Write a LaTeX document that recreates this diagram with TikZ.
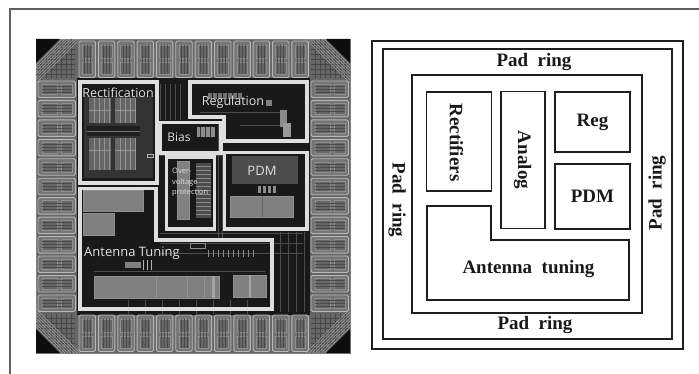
\documentclass[tikz,border=0pt]{standalone}
\usepackage{fontspec}
\setmainfont{Liberation Serif}
\newfontfamily\chipfont{Open Sans}
\usetikzlibrary{positioning,calc}

\begin{document}
\begin{tikzpicture}[x=1pt,y=-1pt,
  padcell/.style={draw=black!28,line width=0.9pt,fill=black!54,rounded corners=1.5pt},
  padcore/.style={draw=black!44,line width=0.5pt,fill=black!60},
  hilite/.style={draw=black!13,line width=3.6pt,miter limit=10},
  metal/.style={fill=black!50,draw=black!44,line width=0.4pt},
  wire/.style={draw=black!70,line width=0.35pt},
  chiplab/.style={text=black!12,font=\chipfont,inner sep=0pt},
  ring/.style={draw=black!88,line width=2pt,fill=none},
  blockbox/.style={draw=black!88,line width=1.7pt,fill=none,inner sep=0pt},
  blocklab/.style={font=\fontsize{19}{19}\selectfont\bfseries,text=black!90,inner sep=0pt}]
  \useasboundingbox (0,0) rectangle (699,374);
  % page rule
  \coordinate (pagetop) at (699,9);
  \coordinate (pagecorner) at (10,9);
  \coordinate (pagebottom) at (10,374);
  \draw[black!62,line width=1.5pt] (pagebottom) -- (pagecorner) -- (pagetop);

  % left: chip photo
  \fill[black!60] (36,39) rectangle (350,353);
  \fill[black!90] (77,78) rectangle (310,315);
  \draw[black!50,line width=0.8pt] (36,39) rectangle (350,353);
  % corners
  \foreach \cx/\cy/\sx/\sy in {36/39/1/1,350/39/-1/1,36/353/1/-1,350/353/-1/-1} {
    \begin{scope}[shift={(\cx,\cy)},xscale=\sx,yscale=\sy]
      \fill[black!95] (0,0) -- (24,0) -- (0,24) -- cycle;
      \foreach \d in {5,10,...,35} {
        \draw[black!72,line width=0.3pt] (\d,{max(27-\d,0)}) -- (\d,39);
        \draw[black!72,line width=0.3pt] ({max(27-\d,0)},\d) -- (39,\d);
      }
      \foreach \d in {26,29,...,44}
        \draw[black!40,line width=0.6pt] (\d,0) -- (0,\d);
    \end{scope}
  }
  % pads, top and bottom
  \foreach \i in {0,...,11} {
    \pgfmathsetmacro{\px}{79+\i*19.35}
    \foreach \py in {41,315} {
      \draw[padcell] (\px,\py) rectangle ++(16.5,36.5);
      \draw[padcore] (\px+3,\py+4) rectangle ++(10.5,13);
      \draw[padcore] (\px+3,\py+21) rectangle ++(10.5,12);
      \foreach \t in {3,6,9}
        \draw[black!70,line width=0.3pt] (\px+\t+2,\py+4) -- ++(0,29);
    }
  }
  % pads, left and right
  \foreach \i in {0,...,11} {
    \pgfmathsetmacro{\py}{81+\i*19.45}
    \foreach \px in {38,311} {
      \draw[padcell] (\px,\py) rectangle ++(37.5,16.5);
      \draw[padcore] (\px+4,\py+3) rectangle ++(15,10.5);
      \draw[padcore] (\px+23,\py+3) rectangle ++(11,10.5);
      \foreach \t in {3,6,9}
        \draw[black!70,line width=0.3pt] (\px+4,\py+\t+2) -- ++(30,0);
    }
  }
  % wiring in the core
  \foreach \wx in {160,165,...,184}
    \draw[wire] (\wx,84) -- (\wx,120);
  \foreach \wy in {233,243,253}
    \draw[wire] (160,\wy) -- (303,\wy);
  \foreach \wx in {280,288,...,304}
    \draw[wire] (\wx,232) -- (\wx,312);
  \foreach \wx in {218,222}
    \draw[wire] (\wx,122) -- (\wx,238);
  \draw[wire] (160,155) -- (222,155);
  \foreach \wx in {128,145,...,260}
    \draw[wire] (\wx,300) -- (\wx,314);
  % rectification
  \fill[black!80] (84,96) rectangle (153,178);
  \foreach \qx/\qw in {89/22,115/20} {
    \foreach \qy/\qh in {98/25,138/32} {
      \fill[black!60] (\qx,\qy) rectangle ++(\qw,\qh);
      \foreach \t in {5,10,...,20}
        \draw[black!42,line width=0.4pt] (\qx+\t,\qy) -- ++(0,\qh);
      \draw[black!42,line width=0.6pt] (\qx,\qy+12) -- ++(\qw,0);
    }
  }
  \fill[black!88] (87,126) rectangle (140,136);
  \draw[black!55,line width=0.5pt] (87,131) -- (140,131);
  \draw[black!30,line width=0.7pt] (147,154) rectangle (153,157);
  % regulation
  \foreach \t in {0,5,...,30}
    \fill[black!55] (208+\t,93) rectangle ++(3.5,6);
  \fill[black!50] (266,100) rectangle (272,106);
  \fill[black!45] (280,110) rectangle (287,127);
  \fill[black!40] (283,123) rectangle (291,137);
  \draw[wire] (200,112) -- (280,112) (240,125) -- (280,125);
  % bias
  \fill[black!45] (197,127) rectangle (215,137);
  \foreach \t in {3,8,13}
    \draw[black!80,line width=0.5pt] (197+\t,127) -- ++(0,10);
  % over-voltage protection
  \fill[metal] (177,161) rectangle (189,219);
  \fill[black!70] (196,163) rectangle (211,218);
  \foreach \t in {3,7,...,51}
    \draw[black!45,line width=0.8pt] (196,163+\t) -- ++(15,0);
  % PDM
  \fill[black!70] (232,156) rectangle (298,184);
  \fill[metal] (230,196) rectangle (293,217);
  \draw[black!60,line width=0.4pt] (262,196) -- (262,217);
  \foreach \t in {0,5,10,15}
    \fill[black!45] (258+\t,186) rectangle ++(3,7);
  % antenna tuning
  \fill[metal] (83,190) rectangle (143,211);
  \fill[metal] (83,213) rectangle (114,235);
  \fill[metal] (94,276) rectangle (219,298);
  \draw[black!42,line width=0.5pt] (156,276) -- (156,298) (187,276) -- (187,298) (204,276) -- (204,298);
  \fill[black!36] (212,276) rectangle (215,298);
  \fill[metal] (233,275) rectangle (266,297);
  \fill[black!36] (249,275) rectangle (251,297);
  \fill[black!50] (125,262) rectangle (141,268);
  \foreach \t in {0,4,8}
    \draw[black!30,line width=0.7pt] (143+\t,260) -- ++(0,10);
  \foreach \t in {0,5,...,45}
    \draw[black!45,line width=0.6pt] (208+\t,250) -- ++(0,7);
  \draw[black!45,line width=0.6pt] (190,243) rectangle (205,248);
  \draw[wire] (94,271) -- (265,271);
  % highlighted blocks
  \draw[hilite] (80,82) rectangle (157,183);
  \draw[hilite] (190,82) -- (307,82) -- (307,141) -- (224,141) -- (224,117) -- (190,117) -- cycle;
  \draw[hilite] (160,122.5) rectangle (221,153);
  \draw[hilite] (166.5,157) rectangle (214.5,229);
  \draw[hilite] (224.5,152.5) rectangle (307,229);
  \draw[hilite] (80,188.5) -- (156,188.5) -- (156,240) -- (272,240) -- (272,309) -- (80,309) -- cycle;
  % chip labels
  \node[chiplab,font=\chipfont\fontsize{12.5}{12.5}\selectfont] (rectification) at (118,93) {Rectification};
  \node[chiplab,font=\chipfont\fontsize{12.5}{12.5}\selectfont] (regulation) at (233,102) {Regulation};
  \node[chiplab,font=\chipfont\fontsize{12}{12}\selectfont] (bias) at (179,137) {Bias};
  \node[chiplab,font=\chipfont\fontsize{13}{13}\selectfont] (pdmchip) at (262,171) {PDM};
  \node[chiplab,font=\chipfont\fontsize{13}{13}\selectfont] (antennachip) at (132,253) {Antenna Tuning};
  \node[chiplab,text=black!12,align=left,font=\chipfont\fontsize{7.5}{10.5}\selectfont,anchor=north west] (overvolt) at (172,168) {Over-\\voltage\\protection};

  % right: floorplan
  \draw[ring] (372,41) rectangle (683,349);
  \draw[ring] (383,49.5) rectangle (672,339);
  \draw[ring] (412,75) rectangle (642,313);
  \node[blockbox,minimum width=65pt,minimum height=99.5pt] (rectifiers) at (459,141.5) {};
  \node[blockbox,minimum width=43.5pt,minimum height=137pt] (analog) at (523,160) {};
  \node[blockbox,minimum width=74.5pt,minimum height=60.5pt] (reg) at (592.5,122) {};
  \node[blockbox,minimum width=75pt,minimum height=64.5pt] (pdm) at (592.5,196.5) {};
  \draw[blockbox] (427,206) -- (491,206) -- (491,240) -- (629,240) -- (629,300) -- (427,300) -- cycle;
  \node[blocklab,rotate=-90] at (456.5,142.5) {Rectifiers};
  \node[blocklab,rotate=-90] at (522.5,160) {Analog};
  \node[blocklab] at (reg) {Reg};
  \node[blocklab] at (pdm) {PDM};
  \node[blocklab] (antenna) at (528.5,269) {Antenna\ \ tuning};
  \node[blocklab] (padtop) at (534,62) {Pad\ \ ring};
  \node[blocklab] (padbottom) at (535,325) {Pad\ \ ring};
  \node[blocklab,rotate=-90] (padleft) at (397,200) {Pad\ \ ring};
  \node[blocklab,rotate=90] (padright) at (657,193) {Pad\ \ ring};
\end{tikzpicture}
\end{document}
